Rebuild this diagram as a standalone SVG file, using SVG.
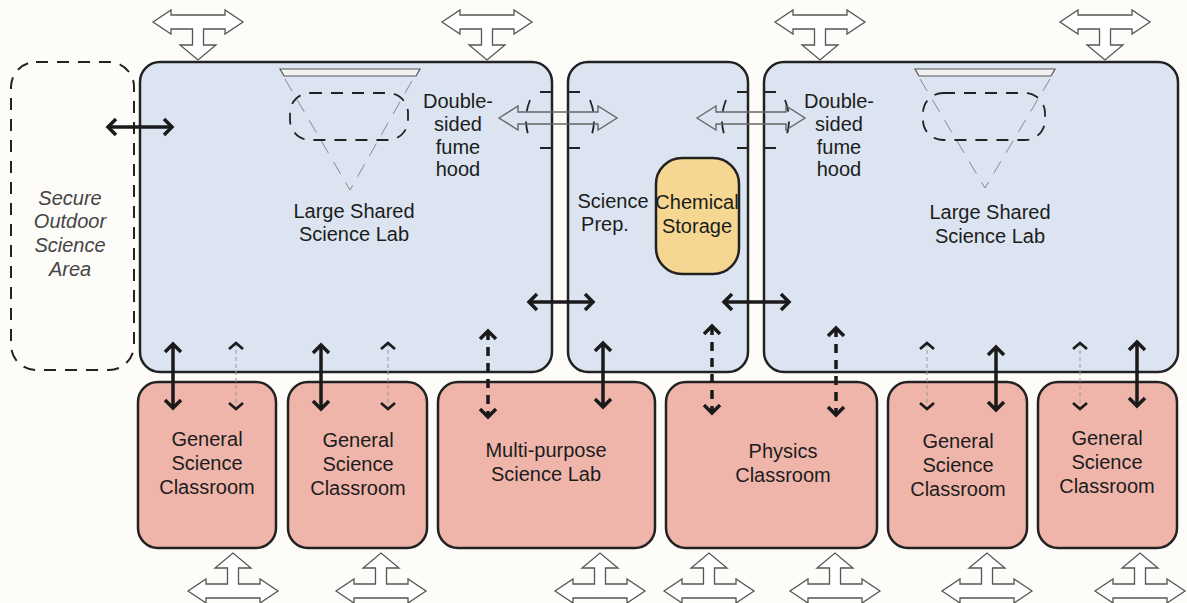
<svg xmlns="http://www.w3.org/2000/svg" xmlns:xlink="http://www.w3.org/1999/xlink" width="1187" height="603" viewBox="0 0 1187 603">
  <style>
    .lab { fill: #dbe4f0; stroke: #222; stroke-width: 2.5; }
    .room { fill: #efb5ab; stroke: #222; stroke-width: 2.5; }
    .store { fill: #f5d791; stroke: #222; stroke-width: 2.5; }
    .outdoor { fill: none; stroke: #222; stroke-width: 2; stroke-dasharray: 12 9; }
    .lbl { font-family: "Liberation Sans", Arial, sans-serif; font-size: 20px; fill: #1c1c1c; text-anchor: middle; }
    .ital { font-style: italic; fill: #444; }
    .bold { fill: none; stroke: #1a1a1a; stroke-width: 3.5; marker-start: url(#chev); marker-end: url(#chev); }
    .bolddash { fill: none; stroke: #1a1a1a; stroke-width: 3.5; stroke-dasharray: 9 7; marker-start: url(#chev); marker-end: url(#chev); }
    .thin { fill: none; stroke: #9a9a9a; stroke-width: 1; stroke-dasharray: 4 3; marker-start: url(#chevs); marker-end: url(#chevs); }
    .hollow { fill: #fff; stroke: #555; stroke-width: 1.3; stroke-linejoin: miter; }
    .pass { fill: none; stroke: #666; stroke-width: 1.4; }
    .tick { fill: none; stroke: #222; stroke-width: 1.8; }
    .arc { fill: none; stroke: #222; stroke-width: 1.8; stroke-dasharray: 12 10; }
    .hoodbox { fill: none; stroke: #222; stroke-width: 1.8; stroke-dasharray: 12 9; }
    .cone { fill: none; stroke: #888; stroke-width: 1; stroke-dasharray: 14 10; }
    .hoodtop { fill: #f2f2f2; stroke: #555; stroke-width: 1.2; }
  </style>
  <defs>
    <marker id="chev" markerUnits="userSpaceOnUse" markerWidth="24" markerHeight="24" viewBox="-12 -12 24 24" refX="0" refY="0" orient="auto-start-reverse">
      <path d="M-8,-8 L0,0 L-8,8" fill="none" stroke="#1a1a1a" stroke-width="3.5"/>
    </marker>
    <marker id="chevs" markerUnits="userSpaceOnUse" markerWidth="20" markerHeight="20" viewBox="-10 -10 20 20" refX="0" refY="0" orient="auto-start-reverse">
      <path d="M-6,-7 L0,0 L-6,7" fill="none" stroke="#1a1a1a" stroke-width="2.6"/>
    </marker>
    <!-- three-way circulation arrow: axis at origin, stem pointing +y -->
    <path id="tee" d="M-45,0 L-27,-12 L-27,-7 L27,-7 L27,-12 L45,0 L27,12 L27,7 L5.5,7 L5.5,23 L18,23 L0,38 L-18,23 L-5.5,23 L-5.5,7 L-27,7 L-27,12 Z"/>
  </defs>

  <rect width="1187" height="603" fill="#fdfcf9"/>

  <g id="outdoor-area">
    <rect class="outdoor" x="11" y="62" width="123" height="308" rx="25"/>
    <text class="lbl ital" x="70" y="205">Secure</text>
    <text class="lbl ital" x="70" y="228">Outdoor</text>
    <text class="lbl ital" x="70" y="252">Science</text>
    <text class="lbl ital" x="70" y="276">Area</text>
  </g>

  <g id="lab-left">
    <rect class="lab" x="140" y="62" width="412" height="310" rx="20"/>
    <polygon class="hoodtop" points="280,69 420,69 416,76 284,76"/>
    <path class="cone" d="M285,79 L350,190 L413,79"/>
    <rect class="hoodbox" x="290" y="93" width="118" height="47" rx="20"/>
    <text class="lbl" x="354" y="218">Large Shared</text>
    <text class="lbl" x="354" y="241">Science Lab</text>
    <text class="lbl" x="458" y="108">Double-</text>
    <text class="lbl" x="458" y="131">sided</text>
    <text class="lbl" x="458" y="154">fume</text>
    <text class="lbl" x="458" y="176">hood</text>
  </g>

  <g id="science-prep">
    <rect class="lab" x="568" y="62" width="180" height="310" rx="20"/>
    <text class="lbl" x="613" y="208">Science</text>
    <text class="lbl" x="605" y="231">Prep.</text>
  </g>

  <g id="chemical-storage">
    <rect class="store" x="656" y="158" width="83" height="116" rx="26"/>
    <text class="lbl" x="697" y="209">Chemical</text>
    <text class="lbl" x="697" y="233">Storage</text>
  </g>

  <g id="lab-right">
    <rect class="lab" x="764" y="62" width="414" height="310" rx="20"/>
    <polygon class="hoodtop" points="915,69 1055,69 1051,76 919,76"/>
    <path class="cone" d="M920,79 L985,188 L1050,79"/>
    <rect class="hoodbox" x="923" y="93" width="122" height="47" rx="20"/>
    <text class="lbl" x="990" y="219">Large Shared</text>
    <text class="lbl" x="990" y="243">Science Lab</text>
    <text class="lbl" x="839" y="108">Double-</text>
    <text class="lbl" x="839" y="131">sided</text>
    <text class="lbl" x="839" y="154">fume</text>
    <text class="lbl" x="839" y="176">hood</text>
  </g>

  <g id="wall-openings">
    <path class="tick" d="M540,92 H552 M540,148 H552 M568,92 H580 M568,148 H580"/>
    <path class="arc" d="M530,100 Q522,120 530,140"/>
    <path class="arc" d="M590,100 Q598,120 590,140"/>
    <path class="tick" d="M737,92 H748 M737,148 H748 M764,92 H776 M764,148 H776"/>
    <path class="arc" d="M726,100 Q718,120 726,140"/>
    <path class="arc" d="M785,100 Q793,120 785,140"/>
  </g>

  <g id="room-1">
    <rect class="room" x="138" y="382" width="138" height="166" rx="20"/>
    <text class="lbl" x="207" y="446">General</text>
    <text class="lbl" x="207" y="470">Science</text>
    <text class="lbl" x="207" y="494">Classroom</text>
  </g>
  <g id="room-2">
    <rect class="room" x="288" y="382" width="139" height="166" rx="20"/>
    <text class="lbl" x="358" y="447">General</text>
    <text class="lbl" x="358" y="471">Science</text>
    <text class="lbl" x="358" y="495">Classroom</text>
  </g>
  <g id="room-3">
    <rect class="room" x="438" y="382" width="217" height="166" rx="20"/>
    <text class="lbl" x="546" y="457">Multi-purpose</text>
    <text class="lbl" x="546" y="481">Science Lab</text>
  </g>
  <g id="room-4">
    <rect class="room" x="666" y="382" width="211" height="166" rx="20"/>
    <text class="lbl" x="783" y="458">Physics</text>
    <text class="lbl" x="783" y="482">Classroom</text>
  </g>
  <g id="room-5">
    <rect class="room" x="888" y="382" width="139" height="166" rx="20"/>
    <text class="lbl" x="958" y="448">General</text>
    <text class="lbl" x="958" y="472">Science</text>
    <text class="lbl" x="958" y="496">Classroom</text>
  </g>
  <g id="room-6">
    <rect class="room" x="1038" y="382" width="139" height="166" rx="20"/>
    <text class="lbl" x="1107" y="445">General</text>
    <text class="lbl" x="1107" y="469">Science</text>
    <text class="lbl" x="1107" y="493">Classroom</text>
  </g>

  <g id="connectors">
    <!-- fume hood pass-throughs -->
    <path class="pass" d="M499,118 L518,106 L518,112 L598,112 L598,106 L617,118 L598,130 L598,124 L518,124 L518,130 Z"/>
    <path class="pass" d="M697,118 L716,106 L716,112 L786,112 L786,106 L805,118 L786,130 L786,124 L716,124 L716,130 Z"/>

    <!-- circulation in and out -->
    <use href="#tee" class="hollow" transform="translate(198,22)"/>
    <use href="#tee" class="hollow" transform="translate(487,22)"/>
    <use href="#tee" class="hollow" transform="translate(820,22)"/>
    <use href="#tee" class="hollow" transform="translate(1105,22)"/>
    <use href="#tee" class="hollow" transform="translate(233,591) scale(1,-1)"/>
    <use href="#tee" class="hollow" transform="translate(381,591) scale(1,-1)"/>
    <use href="#tee" class="hollow" transform="translate(600,591) scale(1,-1)"/>
    <use href="#tee" class="hollow" transform="translate(709,591) scale(1,-1)"/>
    <use href="#tee" class="hollow" transform="translate(835,591) scale(1,-1)"/>
    <use href="#tee" class="hollow" transform="translate(987,591) scale(1,-1)"/>
    <use href="#tee" class="hollow" transform="translate(1140,591) scale(1,-1)"/>

    <!-- direct links -->
    <line class="bold" x1="108" y1="127" x2="172" y2="127"/>
    <line class="bold" x1="529" y1="302" x2="593" y2="302"/>
    <line class="bold" x1="724" y1="302" x2="789" y2="302"/>
    <line class="bold" x1="173" y1="344" x2="173" y2="408"/>
    <line class="bold" x1="321" y1="345" x2="321" y2="409"/>
    <line class="bold" x1="603" y1="343" x2="603" y2="407"/>
    <line class="bold" x1="996" y1="347" x2="996" y2="410"/>
    <line class="bold" x1="1137" y1="342" x2="1137" y2="406"/>

    <!-- shared links -->
    <line class="bolddash" x1="488" y1="331" x2="488" y2="417"/>
    <line class="bolddash" x1="712" y1="326" x2="712" y2="413"/>
    <line class="bolddash" x1="836" y1="328" x2="836" y2="415"/>

    <!-- visual links -->
    <line class="thin" x1="236" y1="343" x2="236" y2="409"/>
    <line class="thin" x1="388" y1="343" x2="388" y2="409"/>
    <line class="thin" x1="927" y1="343" x2="927" y2="409"/>
    <line class="thin" x1="1080" y1="343" x2="1080" y2="409"/>
  </g>
</svg>
